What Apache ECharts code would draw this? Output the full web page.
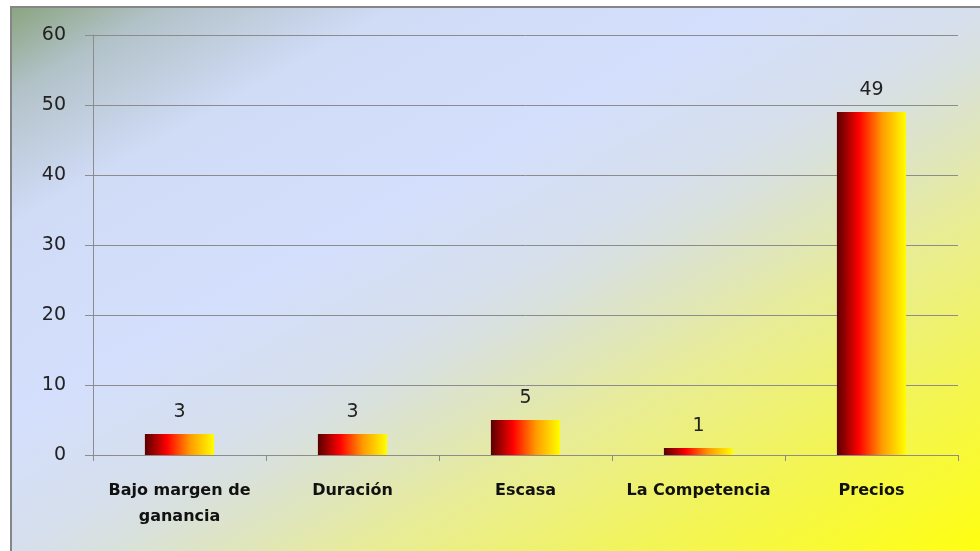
<!DOCTYPE html>
<html>
<head>
<meta charset="utf-8">
<script src="https://cdn.jsdelivr.net/npm/echarts@6/dist/echarts.min.js"></script>
<style>
  html, body { margin: 0; padding: 0; background: #fff; }
  #chart { width: 980px; height: 551px; }
</style>
</head>
<body>
<div id="chart"></div>
<script>
const categories = ['Bajo margen de\nganancia', 'Duración', 'Escasa', 'La Competencia', 'Precios']
const values = [3, 3, 5, 1, 49]
const yMin = 0
const yMax = 60
const yStep = 10

const chart = echarts.init(document.getElementById('chart'))

const barFill = new echarts.graphic.LinearGradient(0, 0, 1, 0, [
  { offset: 0, color: '#580000' },
  { offset: 0.32, color: '#ff0000' },
  { offset: 0.65, color: '#ff9a00' },
  { offset: 1, color: '#ffff00' },
])

// diagonal background, isolines run corner to corner (top-right / bottom-left)
const bgFill = new echarts.graphic.LinearGradient(11, 7, 476, 835, [
  { offset: 0, color: '#8aa47f' },
  { offset: 0.08, color: '#b2c2c8' },
  { offset: 0.2, color: '#d0dbf6' },
  { offset: 0.38, color: '#d4dffd' },
  { offset: 0.5, color: '#d6dfec' },
  { offset: 0.55, color: '#d9e1dc' },
  { offset: 0.62, color: '#e0e6b8' },
  { offset: 0.68, color: '#e8ec98' },
  { offset: 0.82, color: '#f2f458' },
  { offset: 1, color: '#ffff10' },
], true)

const option = {
  backgroundColor: '#ffffff',
  animation: false,
  graphic: [
    {
      type: 'rect',
      z: -10,
      silent: true,
      shape: { x: 11, y: 7, width: 990, height: 570 },
      style: { fill: bgFill, stroke: '#868686', lineWidth: 2 },
    },
  ],
  grid: { left: 93, right: 22, top: 35, bottom: 96 },
  xAxis: {
    type: 'category',
    data: categories,
    axisLine: { lineStyle: { color: '#8c8c8c', width: 1 } },
    axisTick: { show: true, length: 6, lineStyle: { color: '#8c8c8c' } },
    axisLabel: {
      margin: 23,
      color: '#111',
      fontFamily: 'DejaVu Sans',
      fontWeight: 'bold',
      fontSize: 16,
      lineHeight: 26,
      interval: 0,
    },
  },
  yAxis: {
    type: 'value',
    min: yMin,
    max: yMax,
    interval: yStep,
    axisLine: { show: true, lineStyle: { color: '#8c8c8c', width: 1 } },
    axisTick: { show: true, length: 8, lineStyle: { color: '#8c8c8c' } },
    splitLine: { lineStyle: { color: '#8c8c8c', width: 1 } },
    axisLabel: {
      margin: 27,
      color: '#222',
      fontFamily: 'DejaVu Sans',
      fontSize: 19,
    },
  },
  series: [
    {
      type: 'bar',
      data: values,
      barWidth: '40%',
      itemStyle: { color: barFill },
      label: {
        show: true,
        position: 'top',
        distance: 12,
        color: '#222',
        fontFamily: 'DejaVu Sans',
        fontSize: 19,
      },
    },
  ],
}

chart.setOption(option)
</script>
</body>
</html>
